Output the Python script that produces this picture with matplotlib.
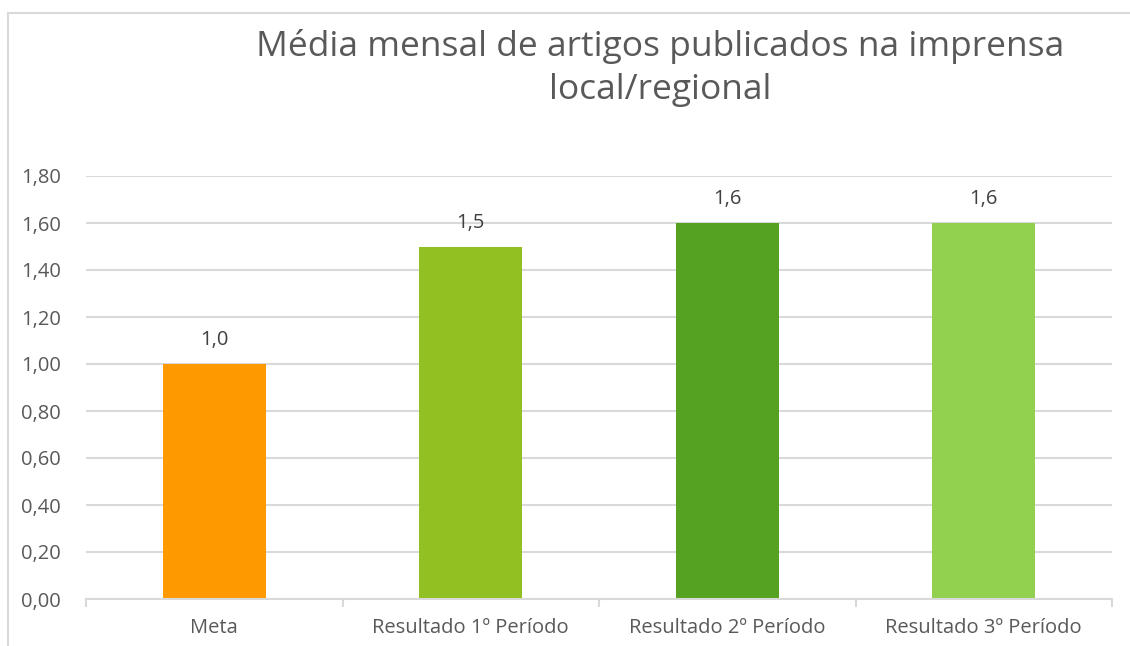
import matplotlib
matplotlib.use("Agg")
import matplotlib.pyplot as plt
from matplotlib.patches import Rectangle
import numpy as np

categories = ["Meta", "Resultado 1º Período", "Resultado 2º Período", "Resultado 3º Período"]
values = [1.0, 1.5, 1.6, 1.6]
value_labels = ["1,0", "1,5", "1,6", "1,6"]
yticks = [0.0, 0.2, 0.4, 0.6, 0.8, 1.0, 1.2, 1.4, 1.6, 1.8]
ytick_labels = ["0,00", "0,20", "0,40", "0,60", "0,80", "1,00", "1,20", "1,40", "1,60", "1,80"]
colors = ["#FF9900", "#92C022", "#55A122", "#92D050"]
title = "Média mensal de artigos publicados na imprensa\nlocal/regional"

plt.rcParams['font.family'] = ['Open Sans', 'DejaVu Sans']

W, H = 1130, 646
fig = plt.figure(figsize=(W/100, H/100), dpi=100)
fig.patch.set_facecolor("white")

# outer chart border
fig.patches.append(Rectangle((8/W, -0.1), 1.2, (H-13)/H + 0.1, transform=fig.transFigure,
                             fill=False, edgecolor="#D9D9D9", linewidth=1.5))

ax = fig.add_axes([86/W, (H-599)/H, (1112-86)/W, (599-176)/H])
x = np.arange(len(categories))
ax.bar(x, values, width=0.4, color=colors, zorder=3)
ax.set_xlim(-0.5, len(categories)-0.5)
ax.set_ylim(0, 1.8)
ax.set_yticks(yticks)
ax.set_yticklabels(ytick_labels)
ax.yaxis.grid(True, color="#D9D9D9", linewidth=1.5, zorder=0)
ax.set_axisbelow(True)
for s in ["top", "right", "left"]:
    ax.spines[s].set_visible(False)
ax.spines["bottom"].set_color("#D9D9D9")
ax.spines["bottom"].set_linewidth(1.5)
ax.spines["bottom"].set_zorder(4)
ax.tick_params(axis="y", length=0, pad=18, labelsize=14.5, labelcolor="#595959")
ax.set_xticks(x)
ax.set_xticklabels(categories)
ax.tick_params(axis="x", length=0, pad=14, labelsize=14.5, labelcolor="#595959")
ax.set_xticks(np.arange(len(categories)+1) - 0.5, minor=True)
ax.tick_params(axis="x", which="minor", length=6, width=1.5, color="#D9D9D9")

for xi, v, lab in zip(x, values, value_labels):
    ax.annotate(lab, (xi, v), xytext=(0, 10), textcoords="offset points",
                ha="center", va="bottom", fontsize=14.5, color="#404040")

fig.text(660/W, 1 - 68/H, title, ha="center", va="center", fontsize=25.5,
         color="#595959", linespacing=1.38)

fig.savefig("out.png", dpi=100)
